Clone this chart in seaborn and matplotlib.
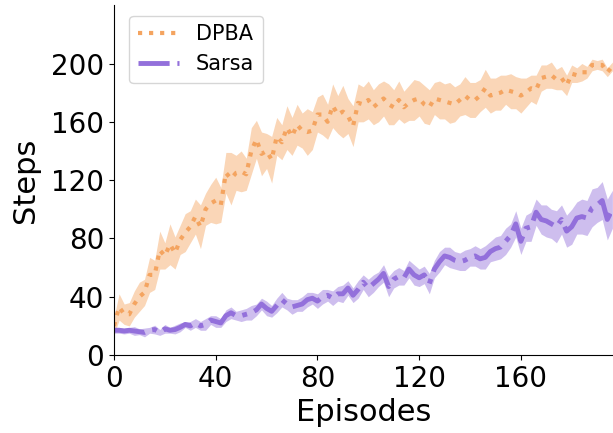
import numpy as np
import pandas as pd

import seaborn as sns
import matplotlib.pyplot as plt

# episodes sampled every 2 steps
episodes = np.arange(0, 197, 2)

dpba_mean = [
    20, 33, 28, 28, 35, 40, 43, 55, 55, 72,
    68, 76, 70, 79, 84, 88, 95, 88, 100, 104,
    106, 103, 125, 121, 125, 126, 124, 140, 148, 138,
    140, 134, 150, 146, 156, 150, 158, 154, 153, 154,
    165, 165, 160, 171, 165, 167, 164, 157, 173, 172,
    175, 170, 173, 176, 172, 170, 175, 170, 173, 175,
    176, 172, 170, 176, 175, 174, 173, 172, 175, 178,
    175, 175, 178, 183, 178, 179, 180, 182, 181, 180,
    178, 180, 183, 182, 190, 191, 192, 189, 190, 185,
    193, 192, 194, 194, 199, 199, 199, 194, 198,
]
dpba_half = [
    6, 9, 7, 8, 9, 10,
    9, 12, 10, 13, 9, 14, 11, 10, 13, 11,
    12, 15, 11, 13, 16, 12, 14, 18, 12, 14, 11, 16, 13, 15, 12,
    16, 13, 12, 15, 13, 14, 12, 16, 13, 12, 14, 12, 15, 13, 18, 12, 14, 13, 12, 13,
    12, 13, 12, 14, 12, 13, 11, 12, 14, 12, 13, 12, 11, 13, 12,
    14, 12, 11, 13, 12, 12, 11, 13, 12, 11, 12, 10, 12, 11, 12,
    10, 9, 10, 9, 8, 9, 7, 8, 7, 6, 5, 6, 4, 4, 3, 4, 3, 3,
]

sarsa_mean = [
    17, 17, 16.5, 17, 16.5, 16, 15.5, 17, 17.5, 15.5,
    18, 17, 17.5, 19, 21, 20, 22, 20, 21, 24,
    23, 22, 27, 29, 27, 27, 28, 29, 31, 35,
    32, 30, 34, 38, 35, 33, 34, 35, 38, 39,
    37, 40, 41, 39, 42, 42, 46, 41, 45, 50,
    46, 49, 52, 56, 47, 52, 54, 53, 59, 55,
    53, 55, 49, 59, 64, 68, 67, 65, 64, 65,
    67, 68, 66, 67, 71, 73, 74, 78, 82, 90,
    78, 87, 88, 98, 93, 92, 90, 88, 93, 85,
    88, 94, 95, 94, 101, 103, 106, 93, 100,
]
sarsa_half = [
    2, 2, 2, 2, 3, 2,
    3, 2, 3, 2, 3, 2, 3, 3, 2, 3,
    3, 3, 4, 3, 4, 3, 4, 4, 3, 4, 4, 5, 4, 4, 5,
    4, 5, 5, 4, 5, 4, 5, 5, 4, 5, 5, 4, 5, 5, 6, 5, 5, 6, 5, 6,
    6, 5, 6, 7, 6, 6, 5, 6, 7, 6, 6, 7, 6, 7, 6,
    7, 6, 6, 7, 6, 7, 7, 8, 7, 8, 8, 9, 8, 9, 9,
    9, 10, 9, 10, 11, 10, 11, 10, 11, 12, 11, 12, 12, 13, 12, 13, 14, 13,
]


def band_frame(mean, half):
    """Three rows per episode so seaborn's min-max band spans mean +/- half."""
    mean = np.asarray(mean, dtype=float)
    half = np.asarray(half, dtype=float)
    return pd.DataFrame({
        'Episodes': np.tile(episodes, 3),
        'Steps': np.concatenate([mean - half, mean, mean + half]),
    })


fig, ax = plt.subplots(figsize=(6.13, 4.33), dpi=100)

sns.lineplot(
    data=band_frame(dpba_mean, dpba_half), x='Episodes', y='Steps',
    errorbar=('pi', 100), color='sandybrown', linestyle=':', linewidth=3,
    err_kws={'alpha': 0.45, 'linewidth': 0}, label='DPBA', ax=ax)
sns.lineplot(
    data=band_frame(sarsa_mean, sarsa_half), x='Episodes', y='Steps',
    errorbar=('pi', 100), color='mediumpurple', linestyle='-.', linewidth=3.5,
    err_kws={'alpha': 0.45, 'linewidth': 0}, label='Sarsa', ax=ax)

ax.set_xlim(0, 196)
ax.set_ylim(0, 240)
ax.set_xticks([0, 40, 80, 120, 160])
ax.set_yticks([0, 40, 80, 120, 160, 200])
ax.tick_params(labelsize=20)
ax.set_xlabel('Episodes', fontsize=22)
ax.set_ylabel('Steps', fontsize=22, labelpad=8)
sns.despine(ax=ax)

ax.legend(loc='upper left', fontsize=15, bbox_to_anchor=(0.01, 1.0))

fig.subplots_adjust(left=0.186, right=0.999, bottom=0.18, top=0.988)
fig.savefig('out.png', dpi=100)
